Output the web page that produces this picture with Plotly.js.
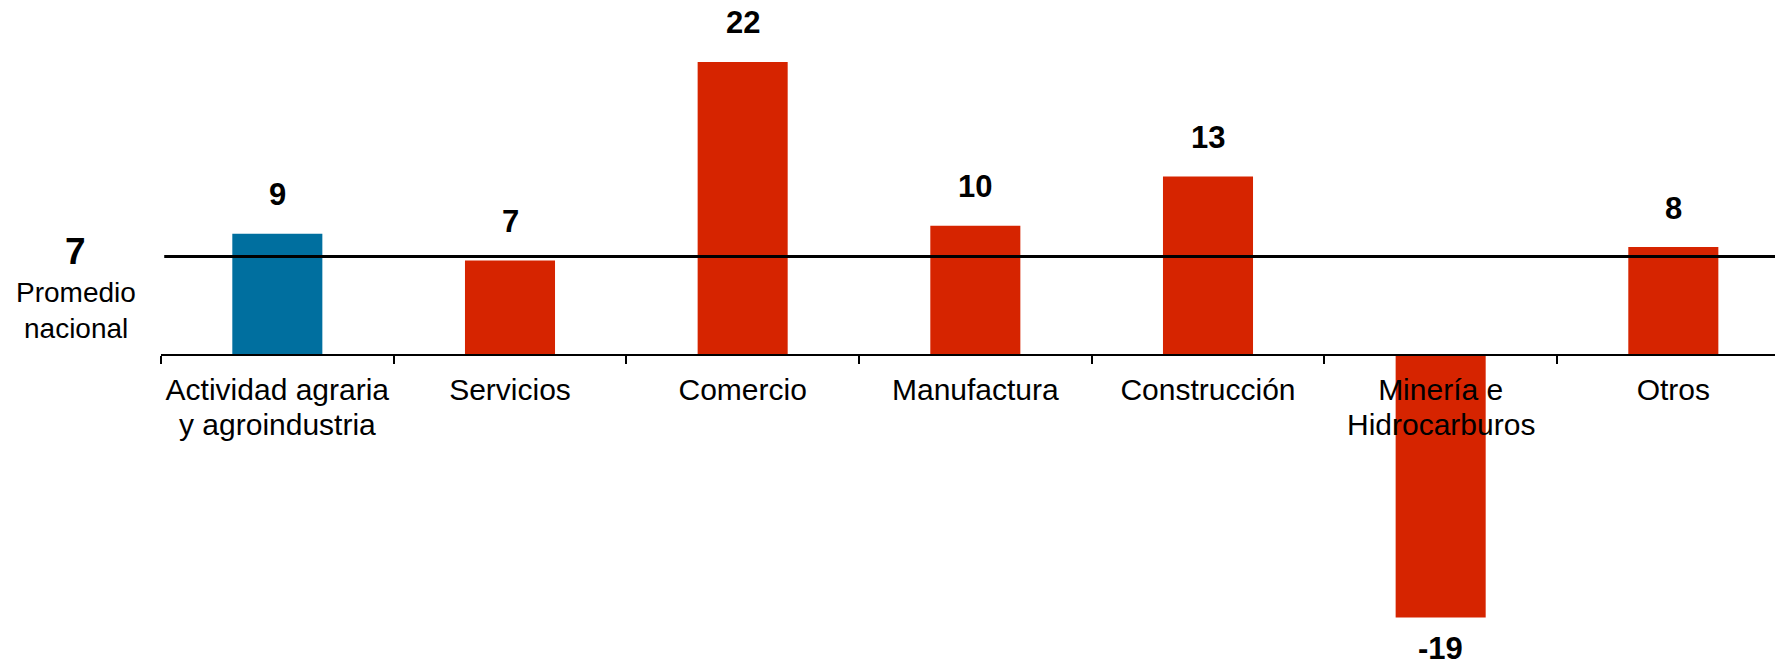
<!DOCTYPE html>
<html>
<head>
<meta charset="utf-8">
<script src="https://cdn.plot.ly/plotly-3.0.1.min.js"></script>
<style>html,body{margin:0;padding:0;background:#fff;}#chart{width:1775px;height:666px;}</style>
</head>
<body>
<div id="chart"></div>
<script>
// ---- data ----
const categories = ["Actividad agraria y agroindustria", "Servicios", "Comercio", "Manufactura", "Construcción", "Minería e Hidrocarburos", "Otros"];
const labelsLine1 = ["Actividad agraria", "Servicios", "Comercio", "Manufactura", "Construcción", "Minería e", "Otros"];
const labelsLine2 = ["y agroindustria", "", "", "", "", "Hidrocarburos", ""];
const values = [9.1, 7.1, 22.0, 9.7, 13.4, -19.7, 8.1];
const valueLabels = ["9", "7", "22", "10", "13", "-19", "8"];
const nationalAverage = 7.4;
const averageLabel = "7";
const averageText = ["Promedio", "nacional"];

// ---- styling ----
const BLUE = "#006F9F";
const RED = "#D62400";
const FONT = "Liberation Sans, Arial, Helvetica, sans-serif";
const colors = categories.map((c, i) => i === 0 ? BLUE : RED);
const yRange = [-23.35, 26.65];
const xRange = [-0.5, 6.437];
const axisPos = (0 - yRange[0]) / (yRange[1] - yRange[0]);

const trace = {
  type: "bar",
  x: categories,
  y: values,
  marker: {color: colors, line: {width: 0}},
  hoverinfo: "x+y",
  showlegend: false
};

const annotations = values.map((v, i) => ({
  x: categories[i], y: v, xref: "x", yref: "y",
  text: valueLabels[i], showarrow: false,
  yanchor: "middle", yshift: v >= 0 ? 39 : -31,
  font: {family: FONT, size: 31, color: "#000", weight: "bold"}
}));
labelsLine2.forEach((t, i) => {
  if (!t) return;
  annotations.push({
    x: categories[i], y: 0, xref: "x", yref: "y",
    text: t, showarrow: false, yanchor: "middle", yshift: -70,
    font: {family: FONT, size: 30, color: "#000"}
  });
});
annotations.push({
  x: 0, y: nationalAverage, xref: "paper", yref: "y",
  xshift: -86, yshift: 5, text: averageLabel, showarrow: false,
  xanchor: "center", yanchor: "middle",
  font: {family: FONT, size: 37, color: "#000", weight: "bold"}
});
annotations.push({
  x: 0, y: nationalAverage, xref: "paper", yref: "y",
  xshift: -85, yshift: -36, text: averageText[0], showarrow: false,
  xanchor: "center", yanchor: "middle",
  font: {family: FONT, size: 28, color: "#000"}
});
annotations.push({
  x: 0, y: nationalAverage, xref: "paper", yref: "y",
  xshift: -85, yshift: -72, text: averageText[1], showarrow: false,
  xanchor: "center", yanchor: "middle",
  font: {family: FONT, size: 28, color: "#000"}
});

const layout = {
  width: 1775, height: 666,
  margin: {l: 161, r: 0, t: 0, b: 0, pad: 0},
  paper_bgcolor: "#fff", plot_bgcolor: "#fff",
  bargap: 0.613,
  showlegend: false,
  xaxis: {
    type: "category",
    range: xRange,
    anchor: "free", position: axisPos,
    showline: true, linecolor: "#000", linewidth: 2,
    ticks: "outside", tickson: "boundaries", ticklen: 8, tickwidth: 2, tickcolor: "#000",
    tickvals: categories, ticktext: labelsLine1, tickangle: 0,
    tickfont: {family: FONT, size: 30, color: "#000"},
    ticklabelstandoff: 8,
    showgrid: false, zeroline: false, fixedrange: true
  },
  yaxis: {
    range: yRange, visible: false, showgrid: false, zeroline: false, fixedrange: true
  },
  shapes: [{
    type: "line", xref: "paper", yref: "y",
    x0: 0.002, x1: 1, y0: nationalAverage, y1: nationalAverage,
    line: {color: "#000", width: 3}, layer: "above"
  }],
  annotations: annotations
};

Plotly.newPlot("chart", [trace], layout, {staticPlot: true, displayModeBar: false});
</script>
</body>
</html>
